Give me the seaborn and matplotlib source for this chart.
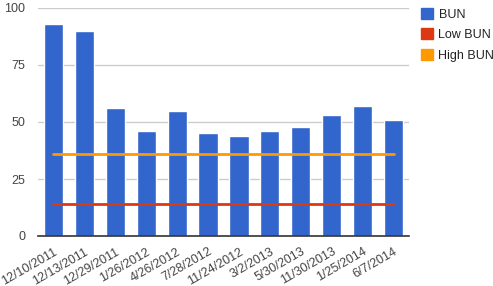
import matplotlib
matplotlib.use("Agg")
import matplotlib.pyplot as plt
import seaborn as sns
import numpy as np
import pandas as pd
from matplotlib.patches import Patch

dates = ["12/10/2011", "12/13/2011", "12/29/2011", "1/26/2012", "4/26/2012",
         "7/28/2012", "11/24/2012", "3/2/2013", "5/30/2013", "11/30/2013",
         "1/25/2014", "6/7/2014"]
bun = [93, 90, 56, 46, 55, 45, 44, 46, 48, 53, 57, 51]
low_bun = [14] * 12
high_bun = [36] * 12
y_ticks = [0, 25, 50, 75, 100]

BLUE = "#3366cc"
RED = "#dc3912"
ORANGE = "#ff9900"
TXT = "#444444"

sns.set_theme(style="white")
plt.rcParams["font.family"] = ["Liberation Sans", "DejaVu Sans"]

fig = plt.figure(figsize=(4.93, 2.86), dpi=100)
ax = fig.add_axes([38 / 493, 50 / 286, (409 - 38) / 493, (236 - 8) / 286])

df = pd.DataFrame({"date": dates, "BUN": bun})
sns.barplot(data=df, x="date", y="BUN", color=BLUE, saturation=1, width=0.62, ax=ax, zorder=2)

pos = np.arange(len(dates))
sns.lineplot(x=pos, y=low_bun, color=RED, lw=2, ax=ax, zorder=3)
sns.lineplot(x=pos, y=high_bun, color=ORANGE, lw=2, ax=ax, zorder=3)

ax.set_xlim(-0.5, len(dates) - 0.5)
ax.set_ylim(0, 100)
ax.set_yticks(y_ticks)
ax.set_yticklabels([str(v) for v in y_ticks])
ax.set_xlabel("")
ax.set_ylabel("")
ax.yaxis.grid(True, color="#cccccc", lw=1)
ax.set_axisbelow(True)
for s in ["left", "right", "top"]:
    ax.spines[s].set_visible(False)
ax.spines["bottom"].set_color("#333333")
ax.spines["bottom"].set_linewidth(1.2)
ax.spines["bottom"].set_zorder(4)
ax.tick_params(axis="y", length=0, pad=9, labelsize=9, labelcolor=TXT)
ax.tick_params(axis="x", length=0, pad=7, labelsize=9, labelcolor=TXT)
for lab in ax.get_xticklabels():
    lab.set_rotation(30)
    lab.set_ha("right")
    lab.set_rotation_mode("anchor")

handles = [Patch(color=BLUE, label="BUN"), Patch(color=RED, label="Low BUN"),
           Patch(color=ORANGE, label="High BUN")]
leg = fig.legend(handles=handles, loc="upper left", bbox_to_anchor=(416 / 493, 1 - 3 / 286),
                 frameon=False, fontsize=9, handlelength=0.95, handleheight=0.95,
                 handletextpad=0.45, labelspacing=0.62, borderaxespad=0)
for t in leg.get_texts():
    t.set_color("#222222")

fig.savefig("out.png", dpi=100)
